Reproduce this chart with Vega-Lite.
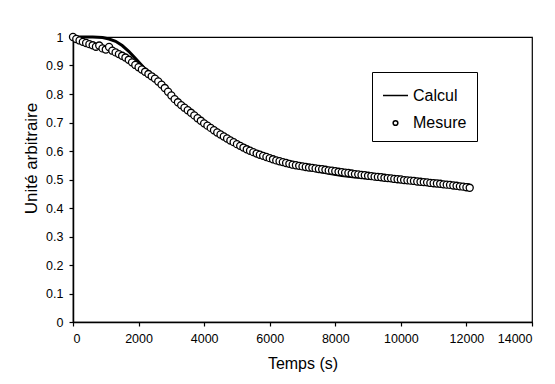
{
  "$schema": "https://vega.github.io/schema/vega-lite/v6.json",
  "width": 459,
  "height": 285,
  "autosize": "none",
  "padding": {"left": 73, "top": 37, "right": 23, "bottom": 62},
  "background": "white",
  "config": {
    "font": "Liberation Sans",
    "view": {"stroke": "black", "strokeWidth": 1.2},
    "axis": {"domainColor": "black", "domainWidth": 1.5, "tickColor": "black", "tickSize": 4, "tickWidth": 1.2, "labelColor": "black", "titleColor": "black", "labelFontSize": 12.5, "titleFontSize": 16, "titleFontWeight": "normal", "grid": false, "labelOverlap": false}
  },
  "datasets": {
    "calcul": [
      {"t": 0, "v": 1.0}, {"t": 300, "v": 1.0}, {"t": 600, "v": 1.0},
      {"t": 900, "v": 0.998}, {"t": 1100, "v": 0.993}, {"t": 1300, "v": 0.985},
      {"t": 1500, "v": 0.97}, {"t": 1700, "v": 0.95}, {"t": 1900, "v": 0.925},
      {"t": 2200, "v": 0.888}, {"t": 2500, "v": 0.853}, {"t": 2800, "v": 0.82},
      {"t": 3100, "v": 0.785}, {"t": 3400, "v": 0.752}, {"t": 3700, "v": 0.722},
      {"t": 4000, "v": 0.695}, {"t": 4300, "v": 0.67}, {"t": 4600, "v": 0.648},
      {"t": 4900, "v": 0.628}, {"t": 5200, "v": 0.61}, {"t": 5500, "v": 0.594},
      {"t": 5800, "v": 0.58}, {"t": 6100, "v": 0.568}, {"t": 6400, "v": 0.558},
      {"t": 6700, "v": 0.549}, {"t": 7000, "v": 0.541}, {"t": 7400, "v": 0.531},
      {"t": 7800, "v": 0.522}, {"t": 8200, "v": 0.514}, {"t": 8600, "v": 0.509},
      {"t": 9000, "v": 0.505}, {"t": 9500, "v": 0.5}, {"t": 10000, "v": 0.495},
      {"t": 10500, "v": 0.491}, {"t": 11000, "v": 0.487}, {"t": 11500, "v": 0.484},
      {"t": 12100, "v": 0.482}
    ],
    "mesure": [
      {"t": 0, "v": 1.0}, {"t": 100, "v": 0.993}, {"t": 200, "v": 0.988}, {"t": 300, "v": 0.983}, {"t": 400, "v": 0.979},
      {"t": 500, "v": 0.975}, {"t": 600, "v": 0.971}, {"t": 700, "v": 0.966}, {"t": 800, "v": 0.97}, {"t": 900, "v": 0.96},
      {"t": 1000, "v": 0.956}, {"t": 1100, "v": 0.965}, {"t": 1200, "v": 0.952}, {"t": 1300, "v": 0.946}, {"t": 1400, "v": 0.94},
      {"t": 1500, "v": 0.934}, {"t": 1600, "v": 0.928}, {"t": 1700, "v": 0.92}, {"t": 1800, "v": 0.911}, {"t": 1900, "v": 0.902},
      {"t": 2000, "v": 0.894}, {"t": 2100, "v": 0.886}, {"t": 2200, "v": 0.878}, {"t": 2300, "v": 0.87}, {"t": 2400, "v": 0.862},
      {"t": 2500, "v": 0.854}, {"t": 2600, "v": 0.844}, {"t": 2700, "v": 0.833}, {"t": 2800, "v": 0.821}, {"t": 2900, "v": 0.808},
      {"t": 3000, "v": 0.795}, {"t": 3100, "v": 0.782}, {"t": 3200, "v": 0.771}, {"t": 3300, "v": 0.761}, {"t": 3400, "v": 0.752},
      {"t": 3500, "v": 0.743}, {"t": 3600, "v": 0.734}, {"t": 3700, "v": 0.725}, {"t": 3800, "v": 0.715}, {"t": 3900, "v": 0.706},
      {"t": 4000, "v": 0.697}, {"t": 4100, "v": 0.689}, {"t": 4200, "v": 0.681}, {"t": 4300, "v": 0.673}, {"t": 4400, "v": 0.665},
      {"t": 4500, "v": 0.658}, {"t": 4600, "v": 0.651}, {"t": 4700, "v": 0.644}, {"t": 4800, "v": 0.637}, {"t": 4900, "v": 0.631},
      {"t": 5000, "v": 0.624}, {"t": 5100, "v": 0.618}, {"t": 5200, "v": 0.612}, {"t": 5300, "v": 0.606}, {"t": 5400, "v": 0.601},
      {"t": 5500, "v": 0.596}, {"t": 5600, "v": 0.591}, {"t": 5700, "v": 0.587}, {"t": 5800, "v": 0.583}, {"t": 5900, "v": 0.579},
      {"t": 6000, "v": 0.575}, {"t": 6100, "v": 0.571}, {"t": 6200, "v": 0.567}, {"t": 6300, "v": 0.564}, {"t": 6400, "v": 0.561},
      {"t": 6500, "v": 0.558}, {"t": 6600, "v": 0.555}, {"t": 6700, "v": 0.552}, {"t": 6800, "v": 0.55}, {"t": 6900, "v": 0.548},
      {"t": 7000, "v": 0.546}, {"t": 7100, "v": 0.544}, {"t": 7200, "v": 0.542}, {"t": 7300, "v": 0.541}, {"t": 7400, "v": 0.539},
      {"t": 7500, "v": 0.537}, {"t": 7600, "v": 0.536}, {"t": 7700, "v": 0.534}, {"t": 7800, "v": 0.532}, {"t": 7900, "v": 0.531},
      {"t": 8000, "v": 0.529}, {"t": 8100, "v": 0.527}, {"t": 8200, "v": 0.526}, {"t": 8300, "v": 0.524}, {"t": 8400, "v": 0.523},
      {"t": 8500, "v": 0.521}, {"t": 8600, "v": 0.519}, {"t": 8700, "v": 0.518}, {"t": 8800, "v": 0.516}, {"t": 8900, "v": 0.515},
      {"t": 9000, "v": 0.513}, {"t": 9100, "v": 0.512}, {"t": 9200, "v": 0.51}, {"t": 9300, "v": 0.509}, {"t": 9400, "v": 0.508},
      {"t": 9500, "v": 0.506}, {"t": 9600, "v": 0.505}, {"t": 9700, "v": 0.504}, {"t": 9800, "v": 0.502}, {"t": 9900, "v": 0.501},
      {"t": 10000, "v": 0.5}, {"t": 10100, "v": 0.498}, {"t": 10200, "v": 0.497}, {"t": 10300, "v": 0.496}, {"t": 10400, "v": 0.495},
      {"t": 10500, "v": 0.493}, {"t": 10600, "v": 0.492}, {"t": 10700, "v": 0.491}, {"t": 10800, "v": 0.49}, {"t": 10900, "v": 0.488},
      {"t": 11000, "v": 0.487}, {"t": 11100, "v": 0.486}, {"t": 11200, "v": 0.485}, {"t": 11300, "v": 0.483}, {"t": 11400, "v": 0.482},
      {"t": 11500, "v": 0.481}, {"t": 11600, "v": 0.479}, {"t": 11700, "v": 0.478}, {"t": 11800, "v": 0.476}, {"t": 11900, "v": 0.475},
      {"t": 12000, "v": 0.473}, {"t": 12100, "v": 0.471}
    ],
    "legend": [
      {"t": -5000, "v": -5, "serie": "Calcul"}, {"t": -5000, "v": -5, "serie": "Mesure"}
    ]
  },
  "encoding": {
    "x": {"field": "t", "type": "quantitative", "scale": {"domain": [0, 14000], "nice": false}, "axis": {"values": [0, 2000, 4000, 6000, 8000, 10000, 12000, 14000], "format": "d", "title": "Temps (s)", "labelPadding": 6, "titlePadding": 11}},
    "y": {"field": "v", "type": "quantitative", "scale": {"domain": [0, 1], "nice": false}, "axis": {"values": [0, 0.1, 0.2, 0.3, 0.4, 0.5, 0.6, 0.7, 0.8, 0.9, 1], "format": "~g", "title": "Unité arbitraire", "titleFontSize": 17, "labelPadding": 6, "titlePadding": 5, "titleY": 121}}
  },
  "layer": [
    {
      "data": {"name": "calcul"},
      "mark": {"type": "line", "color": "black", "strokeWidth": 3}
    },
    {
      "data": {"name": "mesure"},
      "mark": {"type": "point", "shape": "circle", "filled": true, "fill": "white", "stroke": "black", "strokeWidth": 1.3, "size": 50, "opacity": 1}
    },
    {
      "data": {"name": "legend"},
      "mark": {"type": "point", "filled": true, "fill": "white", "stroke": "black", "strokeWidth": 1.5, "opacity": 1, "clip": true},
      "encoding": {
        "shape": {"field": "serie", "type": "nominal", "scale": {"domain": ["Calcul", "Mesure"], "range": ["stroke", "circle"]},
          "legend": {"title": null, "orient": "none", "legendX": 299, "legendY": 35, "strokeColor": "black", "fillColor": "white", "padding": 10, "labelFontSize": 16, "labelColor": "black", "rowPadding": 11, "symbolStrokeColor": "black", "symbolFillColor": "white", "symbolStrokeWidth": 1.5, "labelOffset": 4}},
        "size": {"field": "serie", "type": "nominal", "scale": {"domain": ["Calcul", "Mesure"], "range": [625, 22]}}
      }
    }
  ]
}
